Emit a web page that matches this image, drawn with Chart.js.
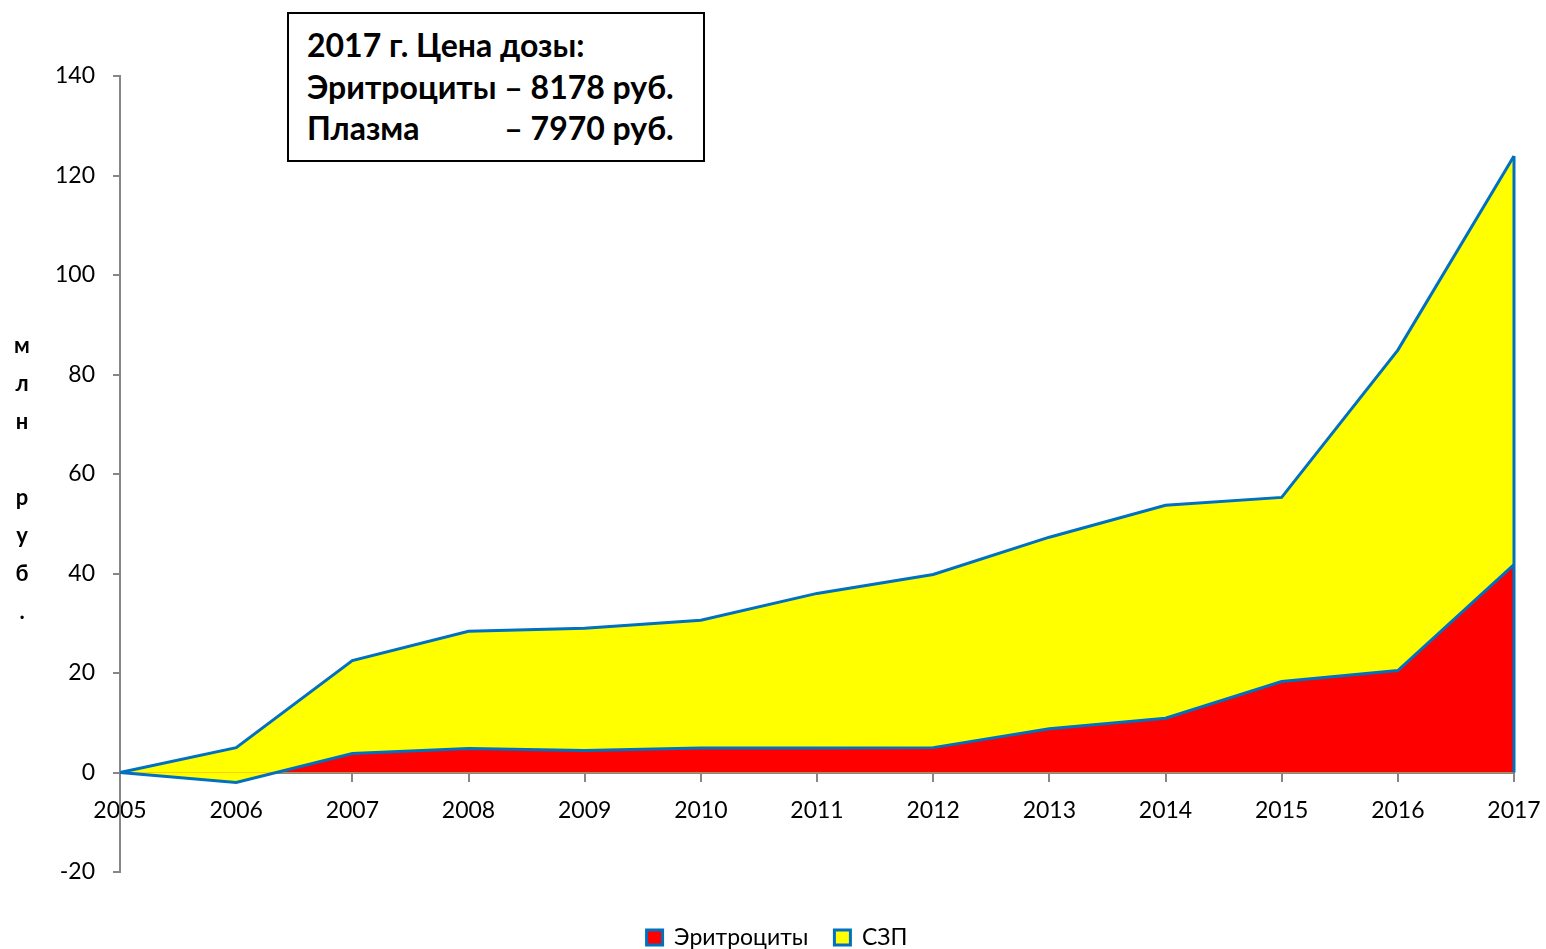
<!DOCTYPE html>
<html>
<head>
<meta charset="utf-8">
<script src="https://cdn.jsdelivr.net/npm/chart.js@4.4.1/dist/chart.umd.min.js"></script>
<style>
  body { margin: 0; background: #fff; }
  #wrap { position: relative; width: 1546px; height: 949px; overflow: hidden; }
  #yTitle {
    position: absolute; left: 0; top: 326px; width: 44px;
    font: bold 22px Lato, sans-serif; line-height: 38px; text-align: center; color: #000;
  }
  #note {
    position: absolute; left: 287px; top: 12px; width: 418px; height: 150px;
    box-sizing: border-box; border: 2px solid #000; background: #fff;
    padding: 10px 0 0 18px; font: bold 32px Lato, sans-serif; color: #000; line-height: 41.5px;
  }
  #note td { padding: 0; white-space: pre; }
</style>
</head>
<body>
<div id="wrap">
  <canvas id="chart" width="1546" height="949"></canvas>
  <div id="yTitle">м<br>л<br>н<br>&nbsp;<br>р<br>у<br>б<br>.</div>
  <div id="note">
    <table cellspacing="0">
      <tr><td colspan="2">2017 г. Цена дозы:</td></tr>
      <tr><td>Эритроциты </td><td>– 8178 руб.</td></tr>
      <tr><td>Плазма</td><td>– 7970 руб.</td></tr>
    </table>
  </div>
</div>
<script>
var years = ['2005', '2006', '2007', '2008', '2009', '2010', '2011', '2012', '2013', '2014', '2015', '2016', '2017'];
var redCells = [0, -2, 3.8, 4.8, 4.4, 4.9, 4.9, 5.0, 8.8, 10.9, 18.3, 20.5, 41.8];  // Эритроциты
var plasma = [0, 7.0, 18.7, 23.6, 24.6, 25.7, 31.1, 34.8, 38.5, 42.8, 37.0, 64.4, 82.1]; // СЗП
var yTicks = [-20, 0, 20, 40, 60, 80, 100, 120, 140];

var lineBlue = '#0070C0';
var axisGrey = '#868686';

// правый край области (вертикальная линия на последней точке)
var edgePlugin = {
    id: 'edge',
    afterDatasetsDraw: function (chart) {
        var meta = chart.getDatasetMeta(1);
        var last = meta.data[meta.data.length - 1];
        var y0 = chart.scales.y.getPixelForValue(0);
        var ctx = chart.ctx;
        ctx.save();
        ctx.strokeStyle = lineBlue;
        ctx.lineWidth = 3;
        ctx.beginPath();
        ctx.moveTo(last.x, last.y);
        ctx.lineTo(last.x, y0);
        ctx.stroke();
        ctx.restore();
    }
};

var config = {
    type: 'line',
    data: {
        labels: years,
        datasets: [
            {
                label: 'Эритроциты',
                data: redCells,
                backgroundColor: '#FF0000',
                borderColor: lineBlue,
                borderWidth: 3,
                pointRadius: 0,
                tension: 0,
                clip: 6,
                fill: { target: 'origin', above: '#FF0000', below: '#FFFF00' }
            },
            {
                label: 'СЗП',
                data: plasma,
                backgroundColor: '#FFFF00',
                borderColor: lineBlue,
                borderWidth: 3,
                pointRadius: 0,
                tension: 0,
                clip: 6,
                fill: '-1'
            }
        ]
    },
    options: {
        responsive: false,
        animation: false,
        layout: { padding: { left: 40, right: 32, top: 76, bottom: -10 } },
        plugins: {
            tooltip: { enabled: false },
            legend: {
                position: 'bottom',
                title: { display: true, text: ' ', font: { size: 10, lineHeight: 1.2 }, padding: 8 },
                labels: {
                    font: { family: 'Lato', size: 23 },
                    color: '#000',
                    boxWidth: 16,
                    boxHeight: 15,
                    padding: 26
                }
            }
        },
        scales: {
            x: {
                position: { y: 0 },
                offset: false,
                afterFit: function (scale) { scale.paddingLeft = 0; scale.paddingRight = 32; },
                grid: { display: true, drawOnChartArea: false, drawTicks: true, tickLength: 8, color: axisGrey, lineWidth: 2 },
                border: { display: true, color: axisGrey, width: 2 },
                ticks: { font: { family: 'Lato', size: 23 }, color: '#000', padding: 16, maxRotation: 0, autoSkip: false }
            },
            y: {
                stacked: 'single',
                min: -20,
                max: 140,
                afterFit: function (scale) { scale.width = 80; },
                afterBuildTicks: function (scale) {
                    scale.ticks = yTicks.map(function (v) { return { value: v }; });
                },
                grid: { display: true, drawOnChartArea: false, drawTicks: true, tickLength: 7, color: axisGrey, lineWidth: 2 },
                border: { display: true, color: axisGrey, width: 2 },
                ticks: { font: { family: 'Lato', size: 23 }, color: '#000', padding: 18 }
            }
        }
    },
    plugins: [edgePlugin]
};

var ctx = document.getElementById('chart').getContext('2d');
var chart = new Chart(ctx, config);
</script>
</body>
</html>
